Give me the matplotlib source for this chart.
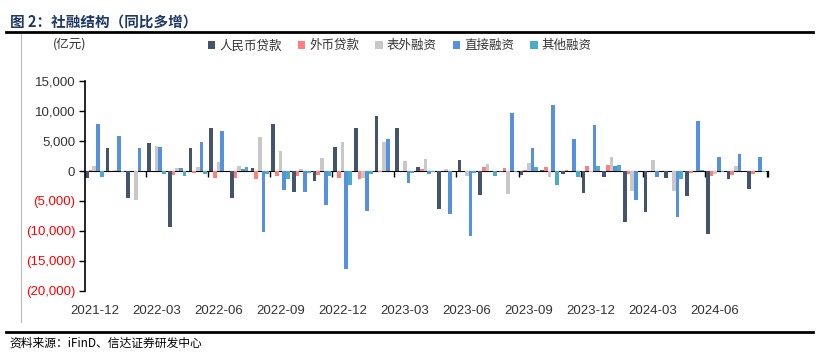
import numpy as np
import matplotlib.pyplot as plt
from matplotlib.lines import Line2D

plt.rcParams['font.family'] = ['Noto Sans CJK SC', 'DejaVu Sans']

# monthly categories
months = ["2021-12", "2022-01", "2022-02", "2022-03", "2022-04", "2022-05",
          "2022-06", "2022-07", "2022-08", "2022-09", "2022-10", "2022-11",
          "2022-12", "2023-01", "2023-02", "2023-03", "2023-04", "2023-05",
          "2023-06", "2023-07", "2023-08", "2023-09", "2023-10", "2023-11",
          "2023-12", "2024-01", "2024-02", "2024-03", "2024-04", "2024-05",
          "2024-06", "2024-07", "2024-08"]

# year-on-year increase, 100 million yuan
rmb_loans = [-1200, 3780, -4440, 4670, -9330, 3890, 7220, -4440, 500, 7780, -3440,
             -1670, 4000, 7220, 9220, 7110, 610, -6280, 1780, -3940, -100, -720,
             100, -440, -3610, -940, -8500, -6780, -1220, -4110, -10560, -1280, -3060]
fx_loans = [100, 50, 0, 50, -670, -390, -1110, -1220, -1330, -890, -780,
            -610, -1110, -1330, -220, 0, 280, 0, 0, 670, 500, 100,
            720, 100, 830, 940, -440, 0, 0, -280, -780, -670, -500]
off_balance = [830, 100, -4830, 4170, 500, 720, 1440, 830, 5720, 3390, 280,
               2170, 4890, -1110, 4890, 1670, 1940, 280, -890, 1220, -3890, 1390,
               -940, 0, -100, 2330, -3280, 1780, -3330, 0, -440, 830, 0]
direct_fin = [7800, 5830, 3780, 4000, 440, 4780, 6670, 390, -10220, -3170, -3440,
              -5720, -16300, -6670, 5390, -1940, -440, -7170, -10890, 50, 9610, 3780,
              11000, 5280, 7670, 830, -4890, -940, -7670, 8330, 2280, 2830, 2280]
other_fin = [-1050, -200, 0, -440, -780, -560, 50, 720, -500, -1390, -280,
             -830, -2330, -560, 0, -330, -220, 0, -390, -890, -100, 720,
             -2330, -940, 830, 940, 0, 0, -1280, 220, -100, 0, -100]

series_names = ["人民币贷款", "外币贷款", "表外融资", "直接融资", "其他融资"]
series_values = [rmb_loans, fx_loans, off_balance, direct_fin, other_fin]
colors = ["#44546a", "#ff7f7f", "#c8c8c8", "#5591dc", "#4bacc6"]

y_ticks = [-20000, -15000, -10000, -5000, 0, 5000, 10000, 15000]

fig = plt.figure(figsize=(8.16, 3.58), dpi=100)
ax = fig.add_axes([0.1042, 0.1872, 0.8368, 0.5865])

x = np.arange(len(months))
w = 0.179
for k, (name, vals, c) in enumerate(zip(series_names, series_values, colors)):
    ax.bar(x + (k - 2) * w, vals, width=w, color=c, label=name)

ax.set_xlim(-0.45, len(months) - 0.45)
ax.set_ylim(-20000, 15000)

# y axis
labels = []
for v in y_ticks:
    if v < 0:
        labels.append("({:,})".format(-v))
    else:
        labels.append("{:,}".format(v))
ax.set_yticks(y_ticks, labels=labels)
for t, v in zip(ax.get_yticklabels(), y_ticks):
    t.set_color("#ff0000" if v < 0 else "#333333")
    t.set_family(["Liberation Sans Narrow", "Liberation Sans"])
    t.set_fontsize(9.5)
ax.tick_params(axis="y", length=4, width=1, color="black", pad=3)

# x labels at the bottom
ax.set_xticks(x[::3], labels=months[::3])
ax.tick_params(axis="x", length=0, pad=10, labelsize=9.5, labelcolor="#333333")
for t in ax.get_xticklabels():
    t.set_family(["Liberation Sans Narrow", "Liberation Sans"])

for s in ["top", "right", "bottom"]:
    ax.spines[s].set_visible(False)
ax.spines["left"].set_color("black")
ax.spines["left"].set_linewidth(1.2)

# zero line with boundary ticks
zero_pos = (0 - (-20000)) / 35000
sec = ax.secondary_xaxis(zero_pos)
sec.set_xticks(np.append(np.arange(2.5, len(months), 3), len(months) - 0.45), labels=[])
sec.tick_params(length=4, width=1, color="black", direction="in")
sec.spines["bottom"].set_color("black")
sec.spines["bottom"].set_linewidth(1.2)

# legend
fig.legend(loc="center", bbox_to_anchor=(0.49, 0.872), ncol=5, frameon=False,
           fontsize=9, handlelength=0.6, handleheight=0.6, handletextpad=0.3,
           columnspacing=1.3, labelcolor="#333333")

fig.text(0.065, 0.868, "(亿元)", fontsize=9, color="#333333")

# title and frame lines
fig.text(0.012, 0.94, "图 2：社融结构（同比多增）", fontsize=10.5, fontweight="bold",
         color="#1f3864", va="center")
fig.add_artist(Line2D([0.007, 0.996], [0.91, 0.91], color="black", linewidth=2))
fig.add_artist(Line2D([0.007, 0.996], [0.073, 0.073], color="black", linewidth=2))
fig.add_artist(Line2D([0.026, 0.026], [0.1, 0.905], color="#bbbbbb", linewidth=0.8))
fig.text(0.012, 0.042, "资料来源：iFinD、信达证券研发中心", fontsize=8.5, color="black",
         va="center", style="italic")

fig.savefig("out.png", dpi=100)
